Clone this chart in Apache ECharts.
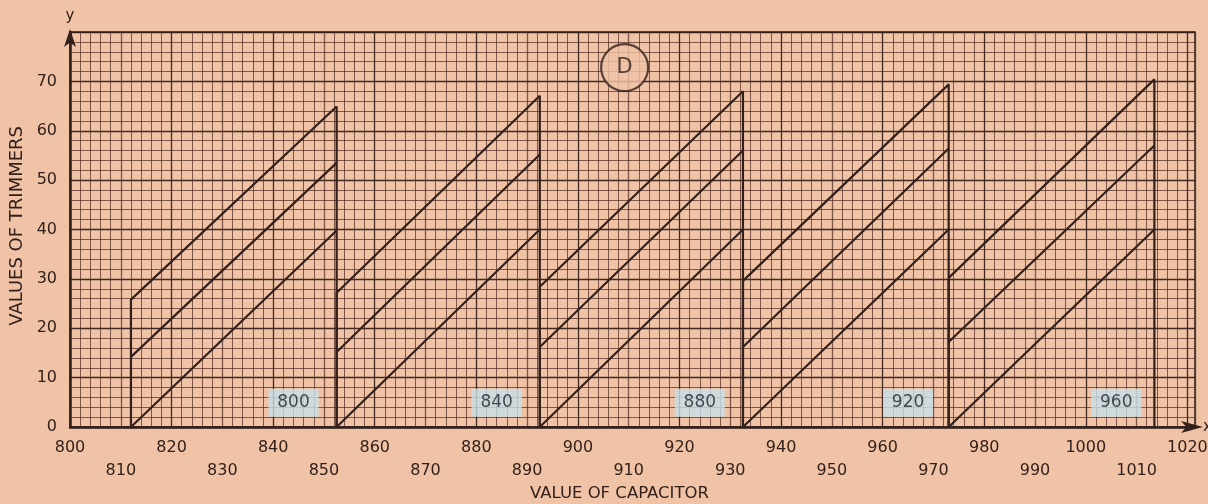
<!DOCTYPE html>
<html>
<head>
<meta charset="utf-8">
<script src="https://cdn.jsdelivr.net/npm/echarts@6/dist/echarts.min.js"></script>
<style>
  html, body { margin: 0; padding: 0; background: #f0c3a7; }
  #chart { width: 1208px; height: 504px; }
</style>
</head>
<body>
<div id="chart"></div>
<script>
// trimmer curves, one saw tooth per band of the capacitor
var segStart = [812, 852.5, 892.5, 932.5, 973];
var segEnd = [852.5, 892.5, 932.5, 973, 1013.5];
var topStart = [25.8, 27.2, 28.4, 29.6, 30.2];
var topEnd = [64.9, 67.1, 68, 69.4, 70.4];
var midStart = [14.2, 15.2, 16.2, 16.2, 17.2];
var midEnd = [53.5, 55.2, 56, 56.4, 57];
var lowStart = [0, 0, 0, 0, 0];
var lowEnd = [39.8, 40, 40, 40, 40];

// boxed band labels
var bandLabels = ["800", "840", "880", "920", "960"];
var bandX = [844, 884, 924, 965, 1006];
var bandY = 4.9;

// circled letter
var markText = "D";
var markPos = [909.2, 72.8];

var xMin = 800, xMax = 1021.5;
var yMin = 0, yMax = 80;

var paper = "#f0c3a7";
var ink = "#33201b";
var minorInk = "rgba(80,45,36,0.72)";
var majorInk = "rgba(50,28,22,0.92)";
var font = "DejaVu Sans";

var chart = echarts.init(document.getElementById("chart"));

var series = [];
for (var i = 0; i < segStart.length; i++) {
  // top line with the verticals on both ends
  series.push({
    type: "line",
    data: [[segStart[i], 0], [segStart[i], topStart[i]], [segEnd[i], topEnd[i]], [segEnd[i], 0]],
    symbol: "none",
    lineStyle: { color: ink, width: 2.2 },
    z: 5
  });
  series.push({
    type: "line",
    data: [[segStart[i], midStart[i]], [segEnd[i], midEnd[i]]],
    symbol: "none",
    lineStyle: { color: ink, width: 2.2 },
    z: 5
  });
  series.push({
    type: "line",
    data: [[segStart[i], lowStart[i]], [segEnd[i], lowEnd[i]]],
    symbol: "none",
    lineStyle: { color: ink, width: 2.2 },
    z: 5
  });
}

series.push({
  type: "scatter",
  data: bandX.map(function(x, k) { return { value: [x, bandY], name: bandLabels[k] }; }),
  symbol: "rect",
  symbolSize: [50, 28],
  itemStyle: { color: "#c6e0ea" },
  label: {
    show: true,
    position: "inside",
    formatter: function(p) { return p.name; },
    color: "#22232a",
    fontSize: 17,
    fontFamily: font
  },
  z: 6
});

series.push({
  type: "scatter",
  data: [{ value: markPos, name: markText }],
  symbol: "circle",
  symbolSize: 47,
  itemStyle: { color: paper, borderColor: ink, borderWidth: 2.2 },
  label: {
    show: true,
    position: "inside",
    formatter: function(p) { return p.name; },
    color: ink,
    fontSize: 21,
    fontFamily: font
  },
  z: 6
});

var option = {
  backgroundColor: paper,
  animation: false,
  grid: {
    left: 70,
    right: 13,
    top: 32,
    bottom: 77,
    outerBoundsMode: "none",
    containLabel: false,
    show: true,
    borderColor: ink,
    borderWidth: 1.5,
    backgroundColor: "transparent"
  },
  xAxis: {
    type: "value",
    min: xMin,
    max: xMax,
    interval: 10,
    name: "x",
    nameLocation: "end",
    nameGap: 8,
    nameTextStyle: { color: ink, fontSize: 15, fontFamily: font },
    axisLine: {
      show: true,
      symbol: ["none", "arrow"],
      symbolSize: [9, 22],
      symbolOffset: [0, 8],
      lineStyle: { color: ink, width: 2.5 }
    },
    axisTick: { show: false },
    axisLabel: {
      color: ink,
      fontSize: 16,
      fontFamily: font,
      margin: 9,
      lineHeight: 23,
      showMaxLabel: false,
      formatter: function(v) {
        if (v % 10 !== 0) return "";
        return (v % 20 === 0) ? String(v) : "\n" + v;
      }
    },
    splitLine: { show: true, lineStyle: { color: [majorInk, minorInk], width: 1.3 } },
    minorTick: { show: false, splitNumber: 5 },
    minorSplitLine: { show: true, lineStyle: { color: minorInk, width: 1 } }
  },
  yAxis: {
    type: "value",
    min: yMin,
    max: yMax,
    interval: 10,
    name: "y",
    nameLocation: "end",
    nameGap: 8,
    nameTextStyle: { color: ink, fontSize: 15, fontFamily: font, align: "center" },
    axisLine: {
      show: true,
      symbol: ["none", "arrow"],
      symbolSize: [9, 18],
      symbolOffset: [0, 3],
      lineStyle: { color: ink, width: 2.5 }
    },
    axisTick: { show: false },
    axisLabel: {
      color: ink,
      fontSize: 16,
      fontFamily: font,
      margin: 13,
      formatter: function(v) { return v >= 80 ? "" : String(v); }
    },
    splitLine: { show: true, lineStyle: { color: majorInk, width: 1.3 } },
    minorTick: { show: false, splitNumber: 5 },
    minorSplitLine: { show: true, lineStyle: { color: minorInk, width: 1 } }
  },
  graphic: [
    {
      type: "text",
      left: 8,
      top: 126,
      rotation: Math.PI / 2,
      style: {
        text: "VALUES OF TRIMMERS",
        fill: ink,
        font: "18px DejaVu Sans"
      }
    },
    {
      type: "text",
      left: 530,
      top: 485,
      style: {
        text: "VALUE OF CAPACITOR",
        fill: ink,
        font: "16.5px DejaVu Sans"
      }
    }
  ],
  series: series
};

chart.setOption(option);
</script>
</body>
</html>
